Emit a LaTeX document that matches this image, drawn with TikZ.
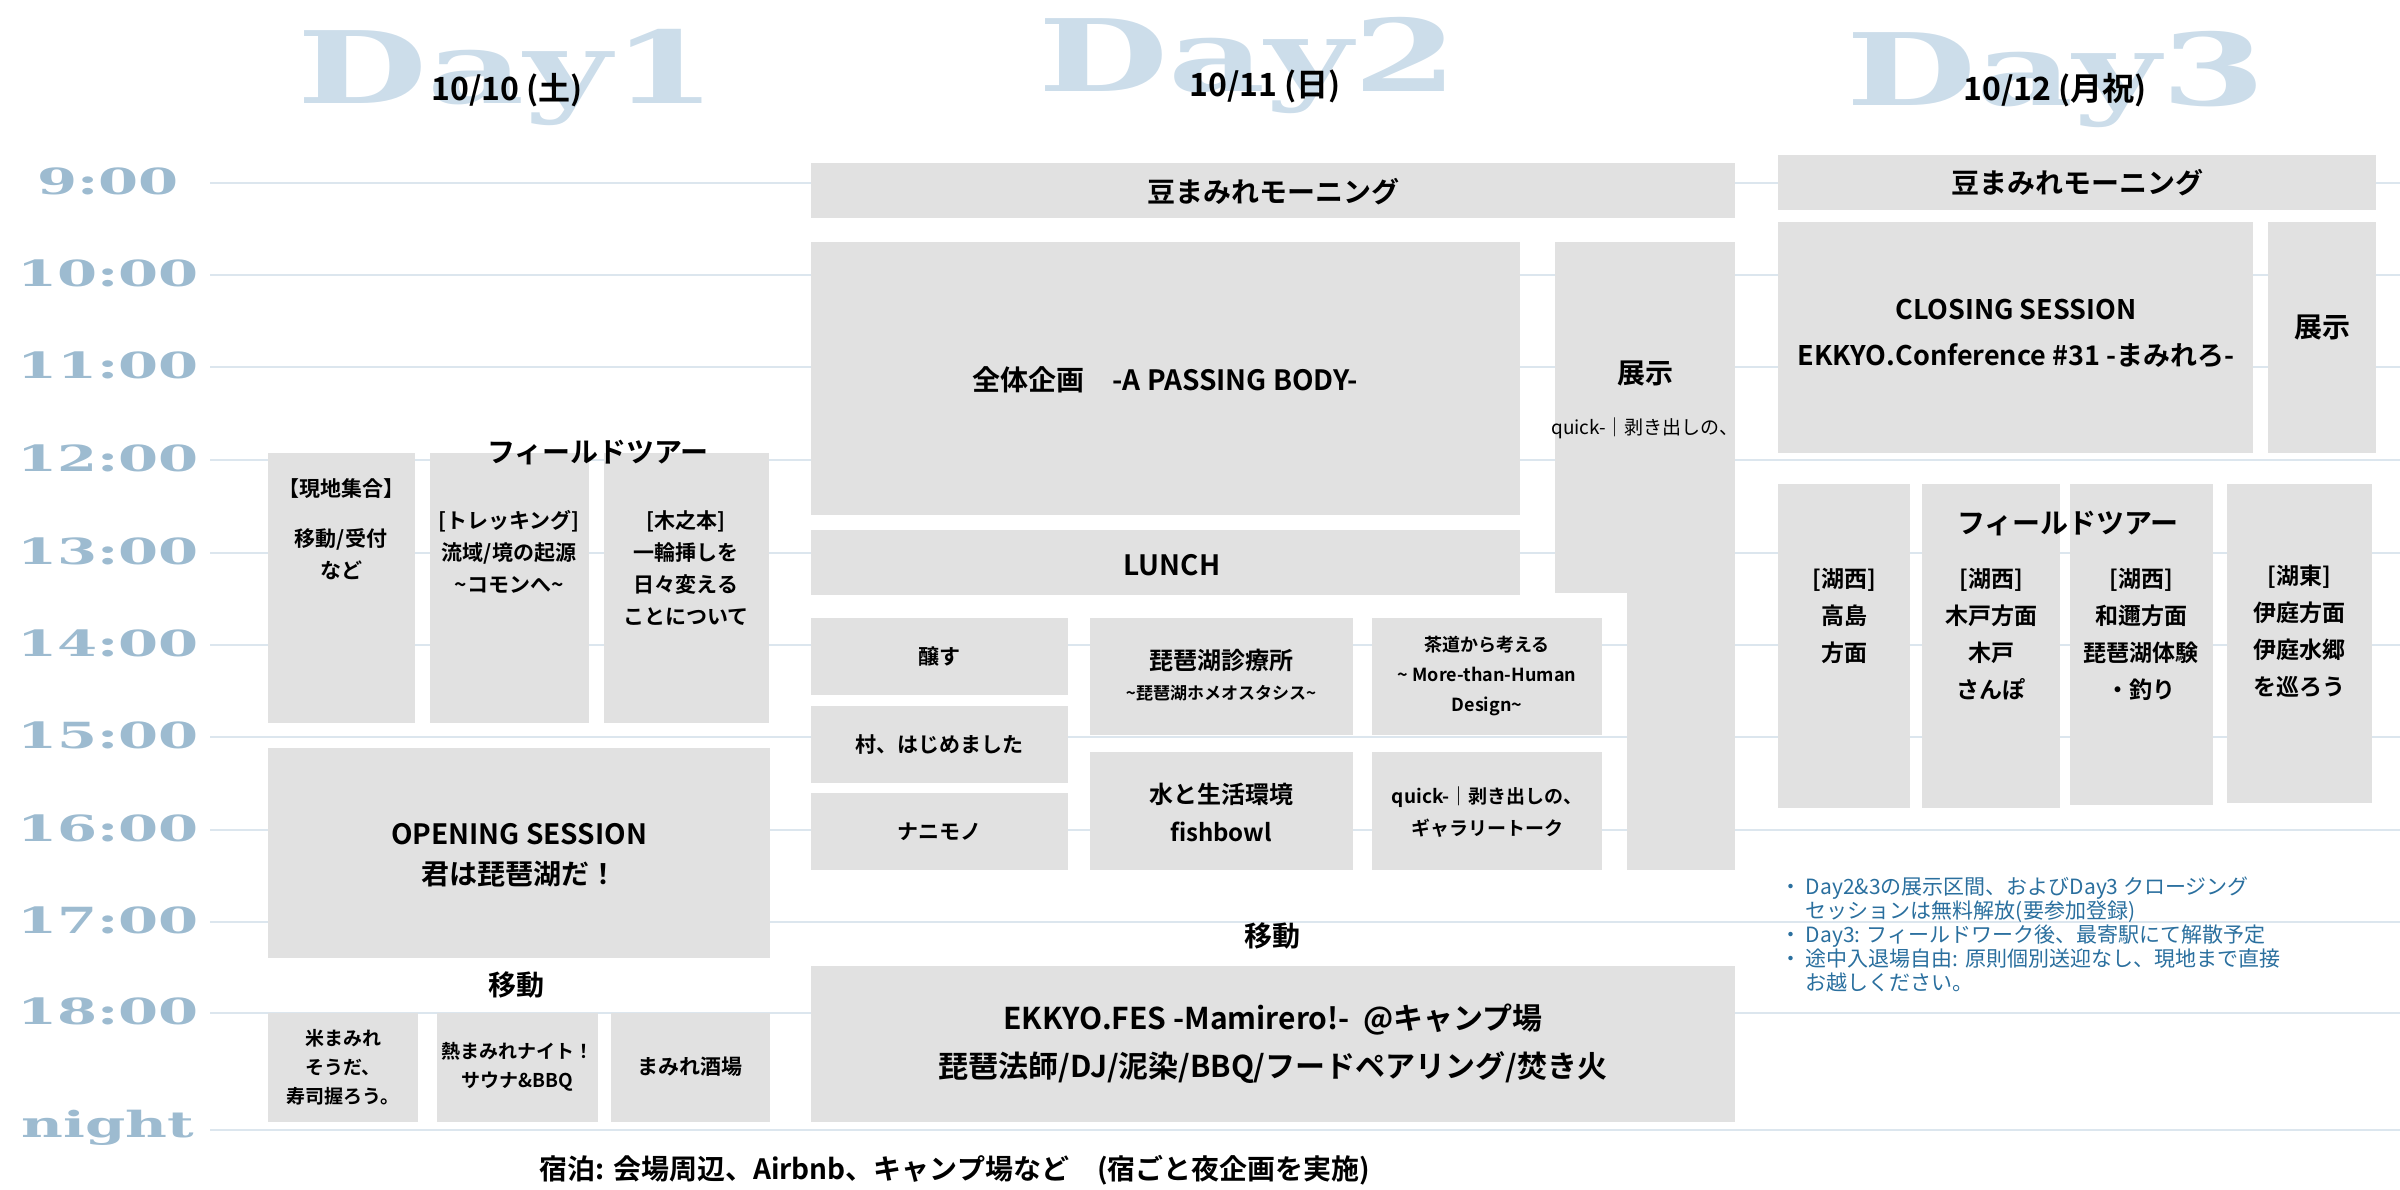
\documentclass[tikz,border=0pt]{standalone}
\usepackage{fontspec}
\setmainfont{Noto Sans CJK JP}[BoldFont={* Bold}]
\newfontfamily\dayfont{DejaVu Serif}[BoldFont={* Bold}]
\definecolor{boxg}{HTML}{E1E1E1}
\definecolor{dayc}{HTML}{CCDDEA}
\definecolor{timec}{HTML}{9DBBD0}
\definecolor{gridc}{HTML}{DCE6EE}
\definecolor{notec}{HTML}{2A6F9E}
\newcommand{\tmlab}[1]{\scalebox{1.6}[1]{#1}}
\newcommand{\daylab}[1]{\scalebox{1.5}[1]{#1}}
\begin{document}
\begin{tikzpicture}[x=1pt,y=-1pt,
  bx/.style={fill=boxg,draw=none},
  t/.style={font=\bfseries\fontsize{28}{40}\selectfont,align=center,inner sep=0},
  ts/.style={font=\bfseries\fontsize{21}{32}\selectfont,align=center,inner sep=0},
  tm/.style={text=timec,font=\dayfont\bfseries\fontsize{36}{36}\selectfont,inner sep=0},
  dy/.style={text=dayc,font=\dayfont\bfseries\fontsize{100}{100}\selectfont,inner sep=0},
  dt/.style={font=\bfseries\fontsize{32}{36}\selectfont,inner sep=0},
  gl/.style={draw=gridc,line width=2.5pt}]
\useasboundingbox (0,0) rectangle (2400,1190);
% grid
\foreach \y/\l [count=\i] in {183/9:00,275/10:00,367/11:00,460/12:00,553/13:00,645/14:00,737/15:00,830/16:00,922/17:00,1013/18:00,1130/night}{
  \coordinate (gA\i) at (210,\y); \coordinate (gB\i) at (2400,\y);
  \draw[gl] (gA\i) -- (gB\i);
  \node[tm] (tl\i) at (108,\y-2) {\tmlab{\l}};
}
% day headers
\node[dy] (d1) at (507,78) {\daylab{Day1}};
\node[dy] (d2) at (1248,66) {\daylab{Day2}};
\node[dy] (d3) at (2056,80) {\daylab{Day3}};
\node[dt] (dt1) at (507,90) {10/10 (土)};
\node[dt] (dt2) at (1265,86) {10/11 (日)};
\node[dt] (dt3) at (2055,90) {10/12 (月祝)};
% Day1
\fill[bx] (268,453) rectangle (415,723);
\node[ts,anchor=north] (a1) at (341,478) {【現地集合】\\[18pt]移動/受付\\など};
\fill[bx] (430,453) rectangle (589,723);
\node[ts,anchor=north] (a2) at (509,510) {[トレッキング]\\流域/境の起源\\\textasciitilde コモンへ\textasciitilde};
\fill[bx] (604,453) rectangle (769,723);
\node[ts,anchor=north] (a3) at (686,510) {[木之本]\\一輪挿しを\\日々変える\\ことについて};
\node[t] (ft1) at (598,453) {フィールドツアー};
\fill[bx] (268,748) rectangle (770,958);
\node[t] (op) at (519,855) {OPENING SESSION\\君は琵琶湖だ！};
\node[t] (mv1) at (516,985) {移動};
\fill[bx] (268,1013) rectangle (418,1122);
\node[ts,font=\bfseries\fontsize{19}{29}\selectfont] (k1) at (343,1067) {米まみれ\\そうだ、\\寿司握ろう。};
\fill[bx] (437,1013) rectangle (598,1122);
\node[ts,font=\bfseries\fontsize{19}{29}\selectfont] (k2) at (517,1067) {熱まみれナイト！\\サウナ\&BBQ};
\fill[bx] (611,1013) rectangle (770,1122);
\node[ts] (k3) at (690,1067) {まみれ酒場};
% Day2
\fill[bx] (811,163) rectangle (1735,218);
\node[t] (m2) at (1273,192) {豆まみれモーニング};
\fill[bx] (811,242) rectangle (1520,515);
\node[t] (zt) at (1165,380) {全体企画\quad -A PASSING BODY-};
\fill[bx] (1555,242) rectangle (1735,593);
\fill[bx] (1627,593) rectangle (1735,870);
\node[t] (tj) at (1645,373) {展示};
\node[ts,font=\fontsize{19}{24}\selectfont] (tjs) at (1645,428) {quick-｜剥き出しの、};
\fill[bx] (811,530) rectangle (1520,595);
\node[t] (lu) at (1172,565) {LUNCH};
\fill[bx] (811,618) rectangle (1068,695);
\node[ts] (s1) at (939,657) {醸す};
\fill[bx] (811,706) rectangle (1068,783);
\node[ts] (s2) at (939,745) {村、はじめました};
\fill[bx] (811,793) rectangle (1068,870);
\node[ts] (s3) at (939,832) {ナニモノ};
\fill[bx] (1090,618) rectangle (1353,735);
\node[ts,font=\bfseries\fontsize{24}{30}\selectfont] (s4) at (1221,675) {琵琶湖診療所\\{\fontsize{17}{26}\selectfont \textasciitilde 琵琶湖ホメオスタシス\textasciitilde}};
\fill[bx] (1090,752) rectangle (1353,870);
\node[ts,font=\bfseries\fontsize{24}{38}\selectfont] (s5) at (1221,812) {水と生活環境\\fishbowl};
\fill[bx] (1372,618) rectangle (1602,735);
\node[ts,font=\bfseries\fontsize{18}{30}\selectfont] (s6) at (1487,676) {茶道から考える\\\textasciitilde\ More-than-Human\\Design\textasciitilde};
\fill[bx] (1372,752) rectangle (1602,870);
\node[ts,font=\bfseries\fontsize{19}{32}\selectfont] (s7) at (1487,812) {quick-｜剥き出しの、\\ギャラリートーク};
\node[t] (mv2) at (1272,936) {移動};
\fill[bx] (811,966) rectangle (1735,1122);
\node[t,font=\bfseries\fontsize{30}{48}\selectfont] (fes) at (1273,1044) {EKKYO.FES -Mamirero!-\ \ @キャンプ場\\琵琶法師/DJ/泥染/BBQ/フードペアリング/焚き火};
\node[t] (sh) at (955,1170) {宿泊: 会場周辺、Airbnb、キャンプ場など\quad(宿ごと夜企画を実施)};
% Day3
\fill[bx] (1778,155) rectangle (2376,210);
\node[t] (m3) at (2077,183) {豆まみれモーニング};
\fill[bx] (1778,222) rectangle (2253,453);
\node[t,font=\bfseries\fontsize{27}{46}\selectfont] (cl) at (2016,333) {CLOSING SESSION\\EKKYO.Conference \#31 -まみれろ-};
\fill[bx] (2268,222) rectangle (2376,453);
\node[t] (tj3) at (2322,327) {展示};
\fill[bx] (1778,484) rectangle (1910,808);
\node[ts,font=\bfseries\fontsize{23}{37}\selectfont,anchor=north] (f1) at (1844,568) {[湖西]\\高島\\方面};
\fill[bx] (1922,484) rectangle (2060,808);
\node[ts,font=\bfseries\fontsize{23}{37}\selectfont,anchor=north] (f2) at (1991,568) {[湖西]\\木戸方面\\木戸\\さんぽ};
\fill[bx] (2070,484) rectangle (2213,805);
\node[ts,font=\bfseries\fontsize{23}{37}\selectfont,anchor=north] (f3) at (2141,568) {[湖西]\\和邇方面\\琵琶湖体験\\・釣り};
\fill[bx] (2227,484) rectangle (2372,803);
\node[ts,font=\bfseries\fontsize{23}{37}\selectfont,anchor=north] (f4) at (2299,565) {[湖東]\\伊庭方面\\伊庭水郷\\を巡ろう};
\node[t] (ft3) at (2068,524) {フィールドツアー};
\node[text=notec,font=\fontsize{21}{24}\selectfont,align=left,anchor=north west,inner sep=0] (nt) at (1780,877)
{・ Day2\&3の展示区間、およびDay3 クロージング\\\phantom{・ }セッションは無料解放(要参加登録)\\・ Day3: フィールドワーク後、最寄駅にて解散予定\\・ 途中入退場自由: 原則個別送迎なし、現地まで直接\\\phantom{・ }お越しください。};
\end{tikzpicture}
\end{document}
